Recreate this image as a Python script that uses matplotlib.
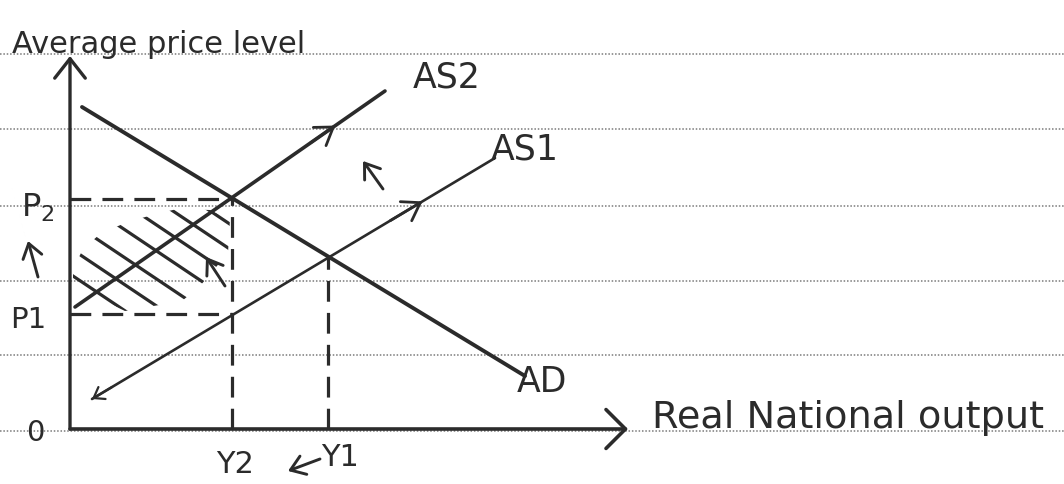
import numpy as np
import matplotlib
matplotlib.use("Agg")
import matplotlib.pyplot as plt
from matplotlib.patches import Polygon

# ---------------- data (diagram units: origin at the axes' corner) ----------------
Y2, Y1 = 162, 258            # real national output levels
P1, P2 = 115, 230            # average price levels
E1_price = 172               # price where AD meets AS1

ad_x, ad_y = [12, 455], [322, 53]
as1_x, as1_y = [22, 425], [30, 271]
as2_x, as2_y = [5, 315], [122, 338]

yaxis_top = 373
xaxis_right = 558

ruled_y = [375, 300, 223, 148, 74, -2]   # lines of the notebook paper

hatch_x = [3, 13, 30, 55, 82, 107, 140, 160, 158, 130, 112, 55, 30, 3]
hatch_y = [160, 180, 195, 206, 214, 220, 219, 210, 176, 143, 128, 118, 130, 145]
hatch_offsets = [155, 181, 208, 236, 262, 287, 312]
hatch_slope = -0.67

# small shift arrows: (tail, head)
shift_arrows = [((313, 240), (293, 268)),
                ((155, 143), (136, 172)),
                ((-32, 152), (-42, 188))]
y_shift_arrow = ((250, -30), (218, -42))

labels = {"AS2": (377, 353), "AS1": (455, 280), "AD": (472, 48)}

ink = "#2b2b2b"

fig = plt.figure(figsize=(10.64, 4.85), dpi=100)
ax = fig.add_axes([0, 0, 1, 1])
ax.set_xlim(-70, 994)
ax.set_ylim(-55, 430)
ax.axis("off")

# paper ruling
for y in ruled_y:
    ax.axhline(y, color="#7a7a7a", lw=1.1, ls=(0, (1, 1.2)), zorder=0)

# axes with arrows
ax.annotate("", xy=(0, yaxis_top), xytext=(0, 0),
            arrowprops=dict(arrowstyle="->,head_length=0.7,head_width=0.55",
                            lw=2.4, color=ink, shrinkA=0, shrinkB=0,
                            mutation_scale=20))
ax.annotate("", xy=(xaxis_right, 0), xytext=(0, 0),
            arrowprops=dict(arrowstyle="->,head_length=0.7,head_width=0.7",
                            lw=2.6, color=ink, shrinkA=0, shrinkB=0,
                            mutation_scale=20))

# curves
ax.plot(ad_x, ad_y, color=ink, lw=2.8, solid_capstyle="round")
ax.plot(as2_x, as2_y, color=ink, lw=2.6, solid_capstyle="round")
ax.plot(as1_x, as1_y, color=ink, lw=1.9, solid_capstyle="round")

def along(xs, ys, t):
    return xs[0] + t * (xs[1] - xs[0]), ys[0] + t * (ys[1] - ys[0])

# direction marks on AS lines
for xs, ys, t in [(as2_x, as2_y, 0.84), (as1_x, as1_y, 0.82)]:
    head = along(xs, ys, t)
    tail = along(xs, ys, t - 0.08)
    ax.annotate("", xy=head, xytext=tail,
                arrowprops=dict(arrowstyle="->,head_length=0.6,head_width=0.4",
                                lw=2.0, color=ink, shrinkA=0, shrinkB=0,
                                mutation_scale=20))
head = along(as1_x, as1_y, 0.0)
tail = along(as1_x, as1_y, 0.05)
ax.annotate("", xy=head, xytext=tail,
            arrowprops=dict(arrowstyle="->,head_length=0.35,head_width=0.25",
                            lw=1.6, color=ink, shrinkA=0, shrinkB=0,
                            mutation_scale=20))

# dashed guides
dash = dict(color=ink, lw=2.3, ls=(0, (6.5, 3.5)))
ax.plot([0, Y2], [P2, P2], **dash)
ax.plot([0, Y2], [P1, P1], **dash)
ax.plot([Y2, Y2], [0, P2], **dash)
ax.plot([Y1, Y1], [0, E1_price], **dash)

# hatched area
poly = Polygon(np.column_stack([hatch_x, hatch_y]), closed=True,
               facecolor="none", edgecolor="none")
ax.add_patch(poly)
xx = np.array([-20.0, 200.0])
for c in hatch_offsets:
    ln, = ax.plot(xx, c + hatch_slope * xx, color=ink, lw=2.3,
                  solid_capstyle="round")
    ln.set_clip_path(poly)

# shift arrows
for tail, head in shift_arrows + [y_shift_arrow]:
    ax.annotate("", xy=head, xytext=tail,
                arrowprops=dict(arrowstyle="->,head_length=0.5,head_width=0.35",
                                lw=2.1, color=ink, shrinkA=0, shrinkB=0,
                                mutation_scale=20))

# text
tk = dict(color=ink, fontfamily="DejaVu Sans")
ax.text(-58, 377, "Average price level", fontsize=22, ha="left",
        va="baseline", **tk)
ax.text(582, 2, "Real National output", fontsize=27.5, ha="left",
        va="baseline", **tk)
for name, (x, y) in labels.items():
    ax.text(x, y, name, fontsize=25, ha="center", va="center", **tk)
ax.text(-32, 222, "P$_2$", fontsize=23, ha="center", va="center", **tk)
ax.text(-42, 110, "P1", fontsize=21, ha="center", va="center", **tk)
ax.text(-35, -3, "0", fontsize=21, ha="center", va="center", **tk)
ax.text(Y2 + 3, -35, "Y2", fontsize=22, ha="center", va="center", **tk)
ax.text(Y1 + 12, -28, "Y1", fontsize=22, ha="center", va="center", **tk)

fig.savefig("out.png", dpi=100, facecolor="white")
